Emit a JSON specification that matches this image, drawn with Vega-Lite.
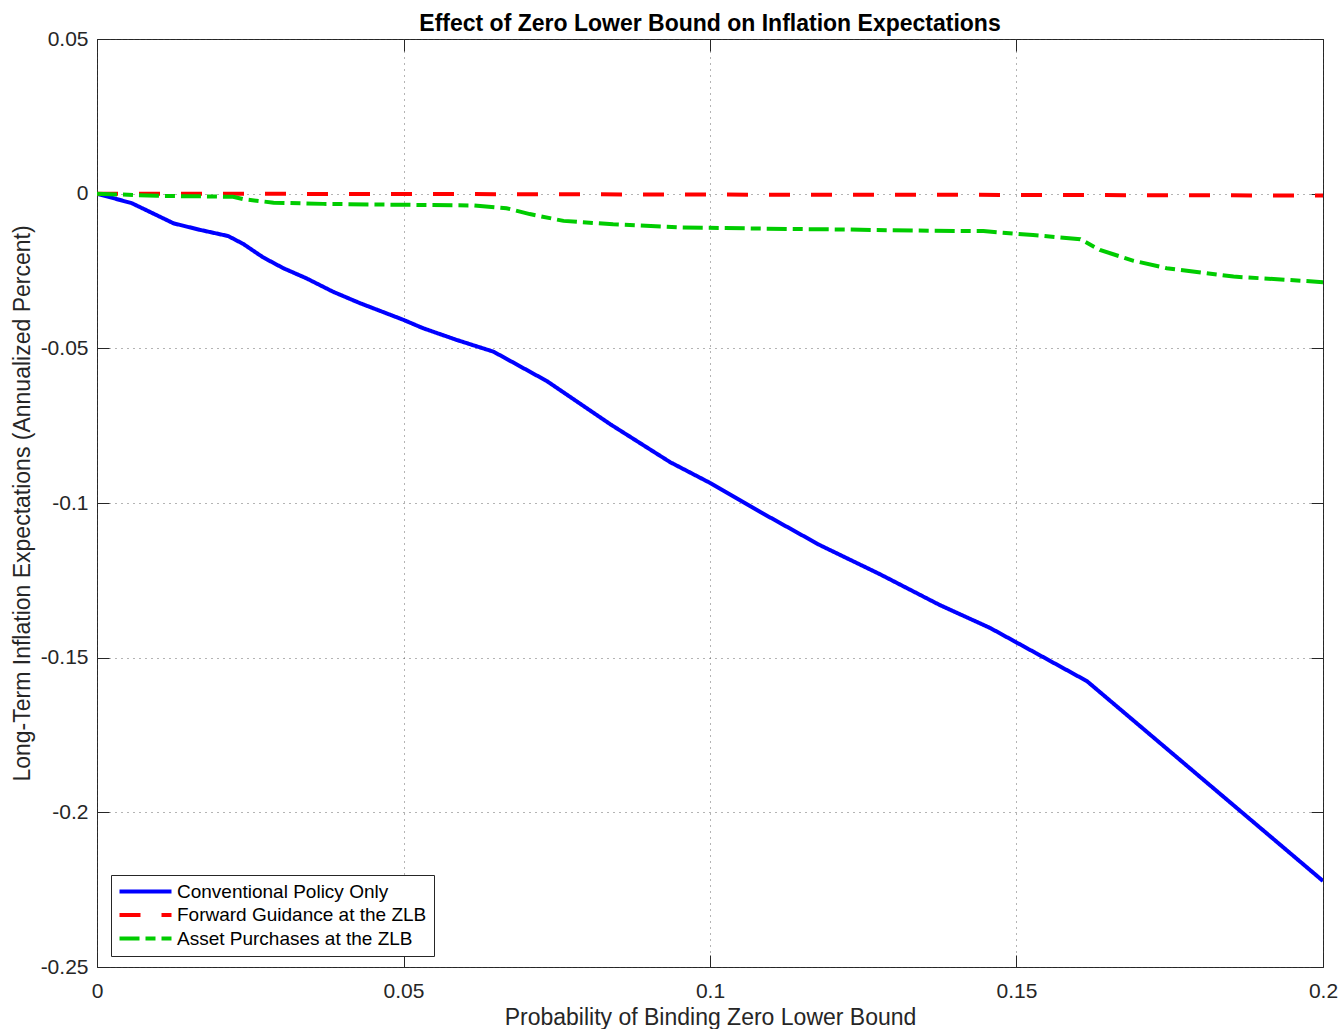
{
  "$schema": "https://vega.github.io/schema/vega-lite/v6.json",
  "width": 1226,
  "height": 928,
  "autosize": {"type": "none"},
  "padding": {"left": 97, "top": 39, "right": 20, "bottom": 62},
  "background": "white",
  "title": {"text": "Effect of Zero Lower Bound on Inflation Expectations", "font": "Liberation Sans", "fontSize": 23, "fontWeight": "bold", "color": "#000000", "offset": -8, "anchor": "middle"},
  "config": {
    "view": {"stroke": "#262626", "strokeWidth": 1},
    "axis": {"labelFont": "Liberation Sans", "titleFont": "Liberation Sans", "labelColor": "#262626", "titleColor": "#262626", "titleFontWeight": "normal", "labelFlush": false, "labelOverlap": false}
  },
  "data": {"values": [
    {"p": 0, "v": 0, "s": "Conventional Policy Only"},
    {"p": 0.0057, "v": -0.0031, "s": "Conventional Policy Only"},
    {"p": 0.0125, "v": -0.0096, "s": "Conventional Policy Only"},
    {"p": 0.0168, "v": -0.0117, "s": "Conventional Policy Only"},
    {"p": 0.0214, "v": -0.0137, "s": "Conventional Policy Only"},
    {"p": 0.0239, "v": -0.0163, "s": "Conventional Policy Only"},
    {"p": 0.0271, "v": -0.0206, "s": "Conventional Policy Only"},
    {"p": 0.0304, "v": -0.0241, "s": "Conventional Policy Only"},
    {"p": 0.0342, "v": -0.0274, "s": "Conventional Policy Only"},
    {"p": 0.0385, "v": -0.0317, "s": "Conventional Policy Only"},
    {"p": 0.0429, "v": -0.0354, "s": "Conventional Policy Only"},
    {"p": 0.05, "v": -0.0408, "s": "Conventional Policy Only"},
    {"p": 0.0532, "v": -0.0435, "s": "Conventional Policy Only"},
    {"p": 0.0587, "v": -0.0473, "s": "Conventional Policy Only"},
    {"p": 0.0647, "v": -0.0511, "s": "Conventional Policy Only"},
    {"p": 0.0734, "v": -0.0606, "s": "Conventional Policy Only"},
    {"p": 0.0837, "v": -0.0745, "s": "Conventional Policy Only"},
    {"p": 0.0935, "v": -0.0868, "s": "Conventional Policy Only"},
    {"p": 0.1, "v": -0.0935, "s": "Conventional Policy Only"},
    {"p": 0.1082, "v": -0.1029, "s": "Conventional Policy Only"},
    {"p": 0.1179, "v": -0.1136, "s": "Conventional Policy Only"},
    {"p": 0.1277, "v": -0.123, "s": "Conventional Policy Only"},
    {"p": 0.1375, "v": -0.133, "s": "Conventional Policy Only"},
    {"p": 0.1457, "v": -0.1404, "s": "Conventional Policy Only"},
    {"p": 0.1615, "v": -0.1576, "s": "Conventional Policy Only"},
    {"p": 0.2, "v": -0.2222, "s": "Conventional Policy Only"},
    {"p": 0, "v": 0, "s": "Forward Guidance at the ZLB"},
    {"p": 0.05, "v": -0.0001, "s": "Forward Guidance at the ZLB"},
    {"p": 0.1, "v": -0.0003, "s": "Forward Guidance at the ZLB"},
    {"p": 0.15, "v": -0.0004, "s": "Forward Guidance at the ZLB"},
    {"p": 0.2, "v": -0.0006, "s": "Forward Guidance at the ZLB"},
    {"p": 0, "v": 0, "s": "Asset Purchases at the ZLB"},
    {"p": 0.0097, "v": -0.0007, "s": "Asset Purchases at the ZLB"},
    {"p": 0.0222, "v": -0.001, "s": "Asset Purchases at the ZLB"},
    {"p": 0.0239, "v": -0.0018, "s": "Asset Purchases at the ZLB"},
    {"p": 0.0288, "v": -0.0029, "s": "Asset Purchases at the ZLB"},
    {"p": 0.0369, "v": -0.0033, "s": "Asset Purchases at the ZLB"},
    {"p": 0.05, "v": -0.0036, "s": "Asset Purchases at the ZLB"},
    {"p": 0.0614, "v": -0.0038, "s": "Asset Purchases at the ZLB"},
    {"p": 0.0668, "v": -0.0047, "s": "Asset Purchases at the ZLB"},
    {"p": 0.0706, "v": -0.0066, "s": "Asset Purchases at the ZLB"},
    {"p": 0.0761, "v": -0.0088, "s": "Asset Purchases at the ZLB"},
    {"p": 0.0842, "v": -0.0099, "s": "Asset Purchases at the ZLB"},
    {"p": 0.0951, "v": -0.0109, "s": "Asset Purchases at the ZLB"},
    {"p": 0.1087, "v": -0.0113, "s": "Asset Purchases at the ZLB"},
    {"p": 0.1223, "v": -0.0116, "s": "Asset Purchases at the ZLB"},
    {"p": 0.1359, "v": -0.012, "s": "Asset Purchases at the ZLB"},
    {"p": 0.1446, "v": -0.0121, "s": "Asset Purchases at the ZLB"},
    {"p": 0.1527, "v": -0.0134, "s": "Asset Purchases at the ZLB"},
    {"p": 0.1604, "v": -0.0147, "s": "Asset Purchases at the ZLB"},
    {"p": 0.1636, "v": -0.0182, "s": "Asset Purchases at the ZLB"},
    {"p": 0.1691, "v": -0.0217, "s": "Asset Purchases at the ZLB"},
    {"p": 0.1745, "v": -0.0241, "s": "Asset Purchases at the ZLB"},
    {"p": 0.1854, "v": -0.0268, "s": "Asset Purchases at the ZLB"},
    {"p": 0.2, "v": -0.0286, "s": "Asset Purchases at the ZLB"}
  ]},
  "layer": [
    {
      "mark": {"type": "line", "strokeWidth": 4, "clip": true},
      "encoding": {
        "x": {"field": "p", "type": "quantitative", "scale": {"domain": [0, 0.2], "nice": false, "zero": false},
          "axis": {"orient": "bottom", "values": [0, 0.05, 0.1, 0.15, 0.2], "labelExpr": "toString(round(datum.value*100)/100)", "title": "Probability of Binding Zero Lower Bound", "labelFontSize": 21, "titleFontSize": 23, "labelPadding": 25, "titlePadding": 5, "tickSize": -12, "tickColor": "#262626", "domain": false, "grid": true, "gridDash": [1, 5], "gridColor": "#444444", "gridOpacity": 0.8}},
        "y": {"field": "v", "type": "quantitative", "scale": {"domain": [-0.25, 0.05], "nice": false, "zero": false},
          "axis": {"orient": "left", "values": [-0.25, -0.2, -0.15, -0.1, -0.05, 0, 0.05], "labelExpr": "toString(round(datum.value*100)/100)", "title": "Long-Term Inflation Expectations (Annualized Percent)", "labelFontSize": 21, "titleFontSize": 23, "labelPadding": 21, "titlePadding": 6, "tickSize": -12, "tickColor": "#262626", "domain": false, "grid": true, "gridDash": [1, 5], "gridColor": "#444444", "gridOpacity": 0.8}},
        "color": {"field": "s", "type": "nominal", "title": null,
          "scale": {"domain": ["Conventional Policy Only", "Forward Guidance at the ZLB", "Asset Purchases at the ZLB"], "range": ["#0000ff", "#ff0000", "#00cc00"]},
          "legend": {"orient": "none", "legendX": 14, "legendY": 836, "symbolType": "M-2,0L11,0", "symbolSize": 64, "symbolStrokeWidth": 4, "labelFont": "Liberation Sans", "labelFontSize": 19, "labelColor": "#000000", "labelOffset": 40, "padding": 7, "rowPadding": 3.5, "strokeColor": "#262626", "fillColor": "white", "cornerRadius": 0, "labelLimit": 400}},
        "strokeDash": {"field": "s", "type": "nominal", "title": null,
          "scale": {"domain": ["Conventional Policy Only", "Forward Guidance at the ZLB", "Asset Purchases at the ZLB"], "range": [[1, 0], [21, 21], [20, 6, 10, 6]]}}
      }
    },
    {
      "mark": {"type": "point", "opacity": 0},
      "encoding": {
        "x": {"field": "p", "type": "quantitative", "axis": {"orient": "top", "values": [0, 0.05, 0.1, 0.15, 0.2], "labels": false, "title": null, "tickSize": -12, "tickColor": "#262626", "domain": false, "grid": false}},
        "y": {"field": "v", "type": "quantitative", "axis": {"orient": "right", "values": [-0.25, -0.2, -0.15, -0.1, -0.05, 0, 0.05], "labels": false, "title": null, "tickSize": -12, "tickColor": "#262626", "domain": false, "grid": false}}
      }
    }
  ],
  "resolve": {"axis": {"x": "independent", "y": "independent"}}
}
